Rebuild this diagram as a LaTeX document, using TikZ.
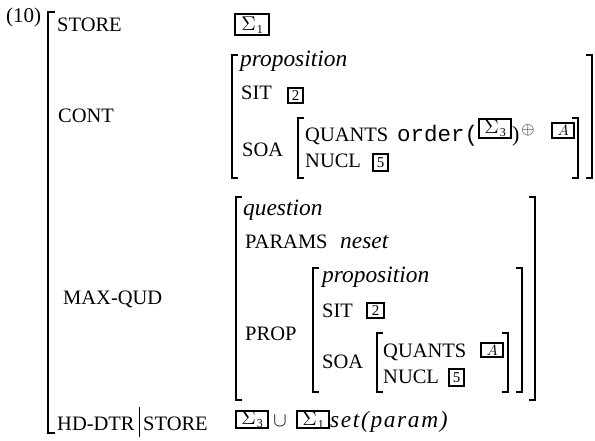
\documentclass[tikz,border=0pt]{standalone}
\usepackage{fontspec}
\setmainfont{Liberation Serif}
\setmonofont{Liberation Mono}
\newcommand\mytagfont{\fontsize{15}{15}\selectfont}
\newcommand\mysig[1]{\raisebox{1pt}{\scalebox{2}{$\Sigma$}}\hspace{1pt}\raisebox{-2pt}{\fontsize{12}{12}\selectfont #1}}
\tikzset{
  feat/.style={anchor=base west, inner sep=0pt, font=\fontsize{20.5}{24}\selectfont},
  typ/.style={anchor=base west, inner sep=0pt, font=\fontsize{23.4}{26}\selectfont\itshape},
  mono/.style={anchor=base west, inner sep=0pt, font=\fontsize{22.5}{26}\selectfont\ttfamily},
  tagbox/.style={draw, line width=2.4pt, inner sep=0pt, anchor=north west},
  brk/.style={line width=2.6pt, line cap=butt},
}
\begin{document}
\begin{tikzpicture}[x=1pt,y=-1pt]
\useasboundingbox (0,0) rectangle (595,441);
% outer
\node[anchor=base west, inner sep=0pt, font=\fontsize{21}{24}\selectfont] (num) at (6,23) {(10)};
\draw[brk] (55,12) -- (48,12) -- (48,433) -- (55,433);
\node[feat] (store) at (57,32) {STORE};
\node[tagbox, minimum width=34pt, minimum height=21pt] (s1top) at (234,13) {\mysig{1}};
\node[feat] (cont) at (58,123) {CONT};
\node[feat] (mq) at (63,305) {MAX-QUD};
\node[feat] (hd) at (57,430) {HD-DTR};
\draw[line width=0.8pt] (139,407) -- (139,437);
\node[feat] (hdstore) at (143,430) {STORE};
% CONT avm
\draw[brk] (238,55) -- (232,55) -- (232,178) -- (238,178);
\draw[brk] (586,55) -- (592,55) -- (592,178) -- (586,178);
\node[typ] (prop1) at (240,67) {proposition};
\node[feat] (sit1) at (241,100) {SIT};
\node[tagbox, minimum width=15pt, minimum height=15pt] (b2a) at (287,87) {\mytagfont 2};
\node[feat] (soa1) at (242,157) {SOA};
\draw[brk] (304,118) -- (298,118) -- (298,178) -- (304,178);
\draw[brk] (572,118) -- (578,118) -- (578,178) -- (572,178);
\node[feat] (q1) at (305,142) {QUANTS};
\node[mono] (ord) at (397,142) {order(};
\node[tagbox, minimum width=32pt, minimum height=19pt] (s3a) at (478,118) {\mysig{3}};
\node[anchor=base west, inner sep=0pt, font=\fontsize{22}{24}\selectfont] (cp) at (512,142) {)};
\node[inner sep=0pt] (op) at (528,130) {\scalebox{1.7}{$\oplus$}};
\node[tagbox, minimum width=22pt, minimum height=15pt] (aa) at (551,122) {\scalebox{1.5}{$A$}};
\node[feat] (n1) at (305,168) {NUCL};
\node[tagbox, minimum width=15pt, minimum height=17pt] (b5a) at (372,153) {\mytagfont 5};
% MAX-QUD avm
\draw[brk] (242,197) -- (236,197) -- (236,400) -- (242,400);
\draw[brk] (529,197) -- (535,197) -- (535,400) -- (529,400);
\node[typ] (qu) at (243,215) {question};
\node[feat] (par) at (245,248) {PARAMS};
\node[typ] (ne) at (340,248) {neset};
\node[feat] (pr) at (245,340) {PROP};
\draw[brk] (319,268) -- (313,268) -- (313,392) -- (319,392);
\draw[brk] (516,268) -- (522,268) -- (522,392) -- (516,392);
\node[typ] (prop2) at (322,283) {proposition};
\node[feat] (sit2) at (322,317) {SIT};
\node[tagbox, minimum width=17pt, minimum height=15pt] (b2b) at (366,302) {\mytagfont 2};
\node[feat] (soa2) at (322,368) {SOA};
\draw[brk] (383,333) -- (377,333) -- (377,392) -- (383,392);
\draw[brk] (502,333) -- (508,333) -- (508,392) -- (502,392);
\node[feat] (q2) at (383,357) {QUANTS};
\node[tagbox, minimum width=22pt, minimum height=14pt] (ab) at (480,342) {\scalebox{1.5}{$A$}};
\node[feat] (n2) at (383,383) {NUCL};
\node[tagbox, minimum width=15pt, minimum height=17pt] (b5b) at (448,368) {\mytagfont 5};
% bottom row
\node[tagbox, minimum width=32pt, minimum height=17pt] (s3b) at (235,410) {\mysig{3}};
\node[inner sep=0pt] (cup) at (280,421) {\scalebox{2}{$\cup$}};
\node[tagbox, minimum width=32pt, minimum height=17pt] (s1b) at (296,410) {\mysig{1}};
\node[typ] (sp) at (330,427) {\addfontfeature{LetterSpace=7}set(param)};
\end{tikzpicture}
\end{document}
